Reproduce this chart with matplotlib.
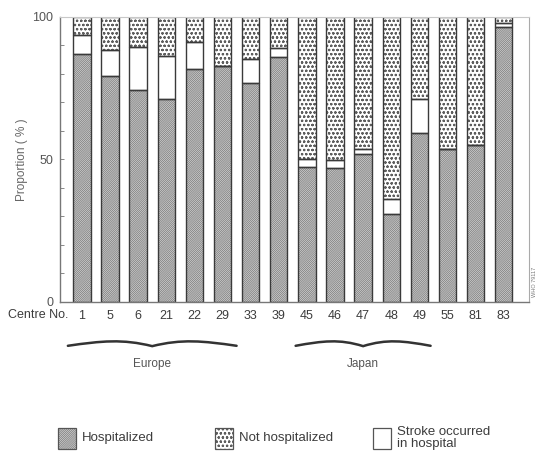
"""Stroke patients by hospitalization status, per collaborating centre."""

import matplotlib
matplotlib.use("Agg")
import matplotlib.pyplot as plt
import numpy as np
from matplotlib.patches import Rectangle, PathPatch
from matplotlib.path import Path
from matplotlib.transforms import blended_transform_factory

centres = ["1", "5", "6", "21", "22", "29", "33", "39",
           "45", "46", "47", "48", "49", "55", "81", "83"]
hospitalized = [86.8, 79.2, 74.3, 71.0, 81.6, 82.8, 76.6, 85.7,
                47.4, 46.8, 52.0, 31.0, 59.4, 53.5, 55.0, 96.5]
stroke_in_hospital = [6.8, 9.3, 15.2, 15.2, 9.6, 0.0, 8.4, 3.2,
                      2.7, 2.9, 1.5, 5.0, 11.6, 0.0, 0.0, 1.2]
not_hospitalized = [6.4, 11.5, 10.5, 13.8, 8.8, 17.2, 15.0, 11.1,
                    49.9, 50.3, 46.5, 64.0, 29.0, 46.5, 45.0, 2.3]
# regions as (first centre, last centre) index spans
regions = [("Europe", -0.5, 5.5), ("Japan", 7.6, 12.4)]

INK = "#3c3c3c"
HOSP_FACE, HOSP_LINE = "#d6d6d6", "#7c7c7c"
NOT_LINE = "#5e5e5e"
HATCH_HOSP = "////////////////"
HATCH_NOT = "oooo"

plt.rcParams["font.family"] = ["Liberation Sans", "DejaVu Sans"]
plt.rcParams["hatch.linewidth"] = 0.55
plt.rcParams["text.color"] = INK

W, H = 539, 457
fig = plt.figure(figsize=(W / 100, H / 100), dpi=100)


def fx(px):
    return px / W


def fy(py):
    return 1 - py / H


ax = fig.add_axes([fx(60), fy(302), fx(529) - fx(60), fy(16.7) - fy(302)])

x = np.arange(len(centres))
width = 0.62
hosp = np.array(hospitalized)
inh = np.array(stroke_in_hospital)
noth = np.array(not_hospitalized)

# hatched fills first, then crisp outlines on top
ax.bar(x, hosp, width, color=HOSP_FACE, edgecolor=HOSP_LINE, lw=0, hatch=HATCH_HOSP)
ax.bar(x, inh, width, bottom=hosp, color="white", lw=0)
ax.bar(x, noth, width, bottom=hosp + inh, color="white", edgecolor=NOT_LINE,
       lw=0, hatch=HATCH_NOT)
for bottom, h in [(0, hosp), (hosp, inh), (hosp + inh, noth)]:
    ax.bar(x, h, width, bottom=bottom, fill=False, edgecolor="#3a3a3a", lw=1.0)

ax.set_xlim(-0.78, 15.9)
ax.set_ylim(0, 100)
ax.set_yticks(np.arange(0, 101, 10))
ax.set_yticklabels(["0" if v == 0 else "50" if v == 50 else "100" if v == 100 else ""
                    for v in range(0, 101, 10)])
ax.tick_params(axis="y", direction="in", length=3, width=0.7, color="#888888",
               pad=5, labelsize=9, labelcolor="#555555")
ax.set_xticks(x, centres)
ax.tick_params(axis="x", length=0, pad=6, labelsize=9, labelcolor=INK)
ax.set_ylabel("Proportion ( % )", fontsize=8.5, color="#666666", labelpad=3)

for side, col, lw in [("left", "#777777", 1.0), ("bottom", "#777777", 1.0),
                      ("top", "#c8c8c8", 0.8), ("right", "#aaaaaa", 0.8)]:
    ax.spines[side].set_color(col)
    ax.spines[side].set_linewidth(lw)

fig.text(fx(8), fy(315), "Centre No.", fontsize=9, ha="left", va="center")
fig.text(fx(534), fy(282), "WHO 79117", fontsize=4, rotation=90,
         ha="center", va="center", color="#777777")

# curly braces grouping the centres by region
trans = blended_transform_factory(ax.transData, fig.transFigure)
base = fy(343)
amp = 3.5 / H
for name, x0, x1 in regions:
    xm = (x0 + x1) / 2
    half = (x1 - x0) / 2
    verts = [
        (x0, base - 0.8 * amp),
        (x0 + 0.4 * half, base + 0.6 * amp), (xm - 0.35 * half, base + 1.2 * amp),
        (xm, base - 0.9 * amp),
        (xm + 0.35 * half, base + 1.2 * amp), (x1 - 0.4 * half, base + 0.6 * amp),
        (x1, base - 0.8 * amp),
    ]
    codes = [Path.MOVETO] + [Path.CURVE4] * 6
    fig.add_artist(PathPatch(Path(verts, codes), transform=trans, fill=False,
                             edgecolor="#333333", lw=1.8, capstyle="round"))
    fig.text(ax.transData.transform((xm, 0))[0] / W, fy(364), name,
             fontsize=8.5, ha="center", va="center", color="#555555")

# legend row
legend_items = [
    (58, "Hospitalized", dict(facecolor=HOSP_FACE, edgecolor=HOSP_LINE, hatch=HATCH_HOSP)),
    (215, "Not hospitalized", dict(facecolor="white", edgecolor=NOT_LINE, hatch=HATCH_NOT)),
    (373, "Stroke occurred\nin hospital", dict(facecolor="white", edgecolor="#555555")),
]
for px, label, style in legend_items:
    fig.add_artist(Rectangle((fx(px), fy(449)), fx(18), fy(428) - fy(449),
                             transform=fig.transFigure, lw=0, **style))
    fig.add_artist(Rectangle((fx(px), fy(449)), fx(18), fy(428) - fy(449),
                             transform=fig.transFigure, fill=False,
                             edgecolor="#555555", lw=0.9))
    fig.text(fx(px + 24), fy(438), label, fontsize=9.5, ha="left", va="center",
             linespacing=1.0)

fig.savefig("out.png", dpi=100)
